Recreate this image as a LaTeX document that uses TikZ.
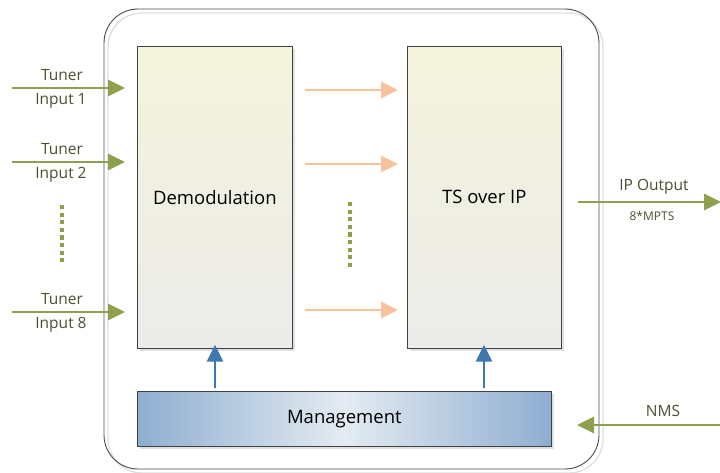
\documentclass[tikz,border=0pt]{standalone}
\usepackage{fontspec}
\setmainfont{Open Sans}
\usetikzlibrary{arrows.meta,shadows}
\definecolor{grn}{HTML}{8DA04E}
\definecolor{org}{HTML}{F5C29C}
\definecolor{blu}{HTML}{3F78AE}
\definecolor{lbl}{HTML}{4B5030}
\definecolor{mgedge}{HTML}{8EAED0}
\definecolor{mgmid}{HTML}{E4EBF2}
\definecolor{boxtop}{HTML}{F4F3DC}
\definecolor{boxbot}{HTML}{EBEBEA}
\begin{document}
\begin{tikzpicture}[x=1pt,y=-1pt,
  blockbox/.style={draw=black!75,line width=0.7pt,top color=boxtop,bottom color=boxbot,
    drop shadow={shadow xshift=3pt,shadow yshift=-3pt,fill=black!12,opacity=1},font=\fontsize{18.5}{21}\selectfont},
  garrow/.style={draw=grn,line width=2.8pt,-{Triangle[length=17pt,width=16pt]}},
  oarrow/.style={draw=org,line width=2.8pt,-{Triangle[length=17pt,width=16pt]}},
  barrow/.style={draw=blu,line width=2.8pt,-{Triangle[length=17pt,width=16pt]}},
  gdots/.style={draw=grn,line width=3.2pt,dash pattern=on 4.2pt off 3.4pt},
  lab/.style={text=lbl,font=\fontsize{15.5}{18}\selectfont,inner sep=0pt},
  slab/.style={text=lbl,font=\fontsize{12}{14}\selectfont,inner sep=0pt}]
\useasboundingbox (0,0) rectangle (720,472);
% outer frame
\draw[black!12,line width=1.4pt,rounded corners=34pt] (108,13) rectangle (603,473);
\draw[black!70,line width=0.9pt,rounded corners=34pt] (104,9) rectangle (599,469);
% blocks
\node[blockbox,minimum width=155pt,minimum height=302pt,anchor=north west] (demod) at (137,46) {Demodulation};
\node[blockbox,minimum width=154pt,minimum height=302pt,anchor=north west] (tsip) at (407,46) {TS over IP};
\node[draw=black!75,line width=0.7pt,minimum width=414pt,minimum height=55pt,anchor=north west,
  left color=mgedge,right color=mgedge,middle color=mgmid,
  drop shadow={shadow xshift=3pt,shadow yshift=-3pt,fill=black!12,opacity=1},
  font=\fontsize{18.5}{21}\selectfont] (mgmt) at (137,391) {Management};
% input arrows
\foreach \y/\n in {88/1,162/2,312/8}{
  \coordinate (in\n) at (12,\y);
  \coordinate (dm\n) at (125,\y);
  \draw[garrow] (in\n) -- (dm\n);
  \node[lab] (tu\n) at (62,\y-13) {Tuner};
  \node[lab] (ip\n) at (61,\y+13) {Input \n};
}
\coordinate (ld1) at (62,205);
\coordinate (ld2) at (62,263);
\draw[gdots] (ld1) -- (ld2);
% internal orange arrows
\foreach \y/\n in {90/1,164/2,310/3}{
  \coordinate (oa\n) at (305,\y);
  \coordinate (ob\n) at (398,\y);
  \draw[oarrow] (oa\n) -- (ob\n);
}
\coordinate (md1) at (350,202);
\coordinate (md2) at (350,268);
\draw[gdots] (md1) -- (md2);
% management arrows
\draw[barrow] ([yshift=3pt]mgmt.north -| 215,0) -- ([yshift=4pt]demod.south -| 215,0);
\draw[barrow] ([yshift=3pt]mgmt.north -| 484,0) -- ([yshift=4pt]tsip.south -| 484,0);
% IP output
\coordinate (ipo) at (721,202);
\draw[garrow] (578,202) coordinate (ipi) -- (ipo);
\node[lab] (ipl) at (654,187) {IP Output};
\node[slab] (mpts) at (652,216) {8*MPTS};
% NMS
\coordinate (nms) at (720,425);
\coordinate (nmsend) at (577,425);
\draw[garrow] (nms) -- (nmsend);
\node[lab] (nmsl) at (663,411) {NMS};
\end{tikzpicture}
\end{document}
